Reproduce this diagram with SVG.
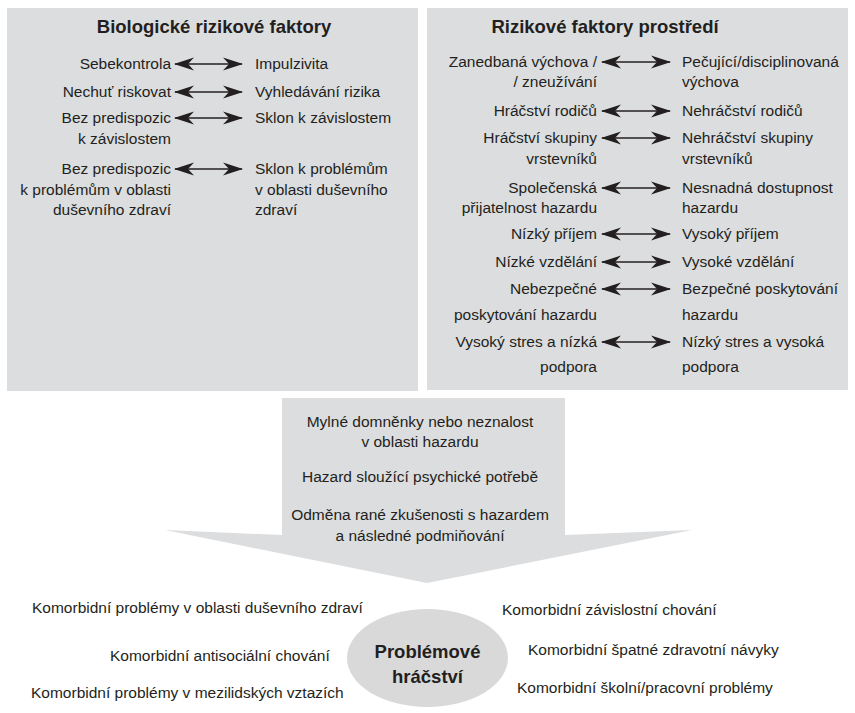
<svg xmlns="http://www.w3.org/2000/svg" width="855" height="713" viewBox="0 0 855 713">
<style>
.t{font-family:"Liberation Sans",Arial,sans-serif;font-size:15.5px;fill:#231f20}
.r{text-anchor:end}
.c{text-anchor:middle}
.h{font-family:"Liberation Sans",Arial,sans-serif;font-size:18.5px;font-weight:bold;fill:#231f20;text-anchor:middle}
.box{fill:#dcdddf}
.ar{stroke:#231f20;stroke-width:1.3;fill:none;marker-start:url(#ah);marker-end:url(#ah)}
</style>
<defs>
<marker id="ah" viewBox="0 0 20 14" refX="19" refY="7" markerWidth="20" markerHeight="14" markerUnits="userSpaceOnUse" orient="auto-start-reverse">
<path d="M0,0.5 L20,7 L0,13.5 L6,7 Z" fill="#231f20"/>
</marker>
</defs>
<rect width="855" height="713" fill="#ffffff"/>

<g id="bio">
<rect class="box" x="7" y="8" width="411" height="383"/>
<text class="h" x="214" y="33">Biologické rizikové faktory</text>
<text class="t r" x="171" y="69">Sebekontrola</text>
<text class="t" x="255" y="69">Impulzivita</text>
<text class="t r" x="171" y="97">Nechuť riskovat</text>
<text class="t" x="255" y="97">Vyhledávání rizika</text>
<text class="t r" x="171" y="123">Bez predispozic</text>
<text class="t r" x="171" y="144">k závislostem</text>
<text class="t" x="255" y="123">Sklon k závislostem</text>
<text class="t r" x="171" y="174">Bez predispozic</text>
<text class="t r" x="171" y="195">k problémům v oblasti</text>
<text class="t r" x="171" y="215">duševního zdraví</text>
<text class="t" x="255" y="174">Sklon k problémům</text>
<text class="t" x="255" y="195">v oblasti duševního</text>
<text class="t" x="255" y="215">zdraví</text>
</g>

<g id="env">
<rect class="box" x="427" y="8" width="421" height="382"/>
<text class="h" x="605" y="33">Rizikové faktory prostředí</text>
<text class="t r" x="597" y="67">Zanedbaná výchova /</text>
<text class="t r" x="597" y="87">/ zneužívání</text>
<text class="t" x="682" y="67">Pečující/disciplinovaná</text>
<text class="t" x="682" y="87">výchova</text>
<text class="t r" x="597" y="116">Hráčství rodičů</text>
<text class="t" x="682" y="116">Nehráčství rodičů</text>
<text class="t r" x="597" y="143">Hráčství skupiny</text>
<text class="t r" x="597" y="164">vrstevníků</text>
<text class="t" x="682" y="143">Nehráčství skupiny</text>
<text class="t" x="682" y="164">vrstevníků</text>
<text class="t r" x="597" y="193">Společenská</text>
<text class="t r" x="597" y="213">přijatelnost hazardu</text>
<text class="t" x="682" y="193">Nesnadná dostupnost</text>
<text class="t" x="682" y="213">hazardu</text>
<text class="t r" x="597" y="239">Nízký příjem</text>
<text class="t" x="682" y="239">Vysoký příjem</text>
<text class="t r" x="597" y="267">Nízké vzdělání</text>
<text class="t" x="682" y="267">Vysoké vzdělání</text>
<text class="t r" x="597" y="294">Nebezpečné</text>
<text class="t r" x="597" y="320">poskytování hazardu</text>
<text class="t" x="682" y="294">Bezpečné poskytování</text>
<text class="t" x="682" y="320">hazardu</text>
<text class="t r" x="597" y="347">Vysoký stres a nízká</text>
<text class="t r" x="597" y="372">podpora</text>
<text class="t" x="682" y="347">Nízký stres a vysoká</text>
<text class="t" x="682" y="372">podpora</text>
</g>

<g id="connectors">
<line class="ar" x1="175" y1="64" x2="242" y2="64"/>
<line class="ar" x1="175" y1="92" x2="242" y2="92"/>
<line class="ar" x1="175" y1="118" x2="242" y2="118"/>
<line class="ar" x1="175" y1="169" x2="242" y2="169"/>
<line class="ar" x1="602" y1="62" x2="670" y2="62"/>
<line class="ar" x1="602" y1="111" x2="670" y2="111"/>
<line class="ar" x1="602" y1="138" x2="670" y2="138"/>
<line class="ar" x1="602" y1="188" x2="670" y2="188"/>
<line class="ar" x1="602" y1="234" x2="670" y2="234"/>
<line class="ar" x1="602" y1="262" x2="670" y2="262"/>
<line class="ar" x1="602" y1="289" x2="670" y2="289"/>
<line class="ar" x1="602" y1="342" x2="670" y2="342"/>
</g>

<g id="mid">
<polygon class="box" points="282,398 565,398 565,535 692,530 427,583 165,530 282,535"/>
<text class="t c" x="420" y="427">Mylné domněnky nebo neznalost</text>
<text class="t c" x="420" y="447">v oblasti hazardu</text>
<text class="t c" x="420" y="482">Hazard sloužící psychické potřebě</text>
<text class="t c" x="420" y="520">Odměna rané zkušenosti s hazardem</text>
<text class="t c" x="420" y="541">a následné podmiňování</text>
</g>

<g id="problem">
<ellipse cx="427.5" cy="658" rx="80.5" ry="49" fill="#d9d9da"/>
<text class="h" x="427.5" y="658">Problémové</text>
<text class="h" x="427.5" y="683">hráčství</text>
</g>

<g id="comorbid">
<text class="t" x="32" y="613">Komorbidní problémy v oblasti duševního zdraví</text>
<text class="t" x="110" y="661">Komorbidní antisociální chování</text>
<text class="t" x="31" y="698">Komorbidní problémy v mezilidských vztazích</text>
<text class="t" x="502" y="615">Komorbidní závislostní chování</text>
<text class="t" x="528" y="655">Komorbidní špatné zdravotní návyky</text>
<text class="t" x="517" y="693">Komorbidní školní/pracovní problémy</text>
</g>
</svg>
